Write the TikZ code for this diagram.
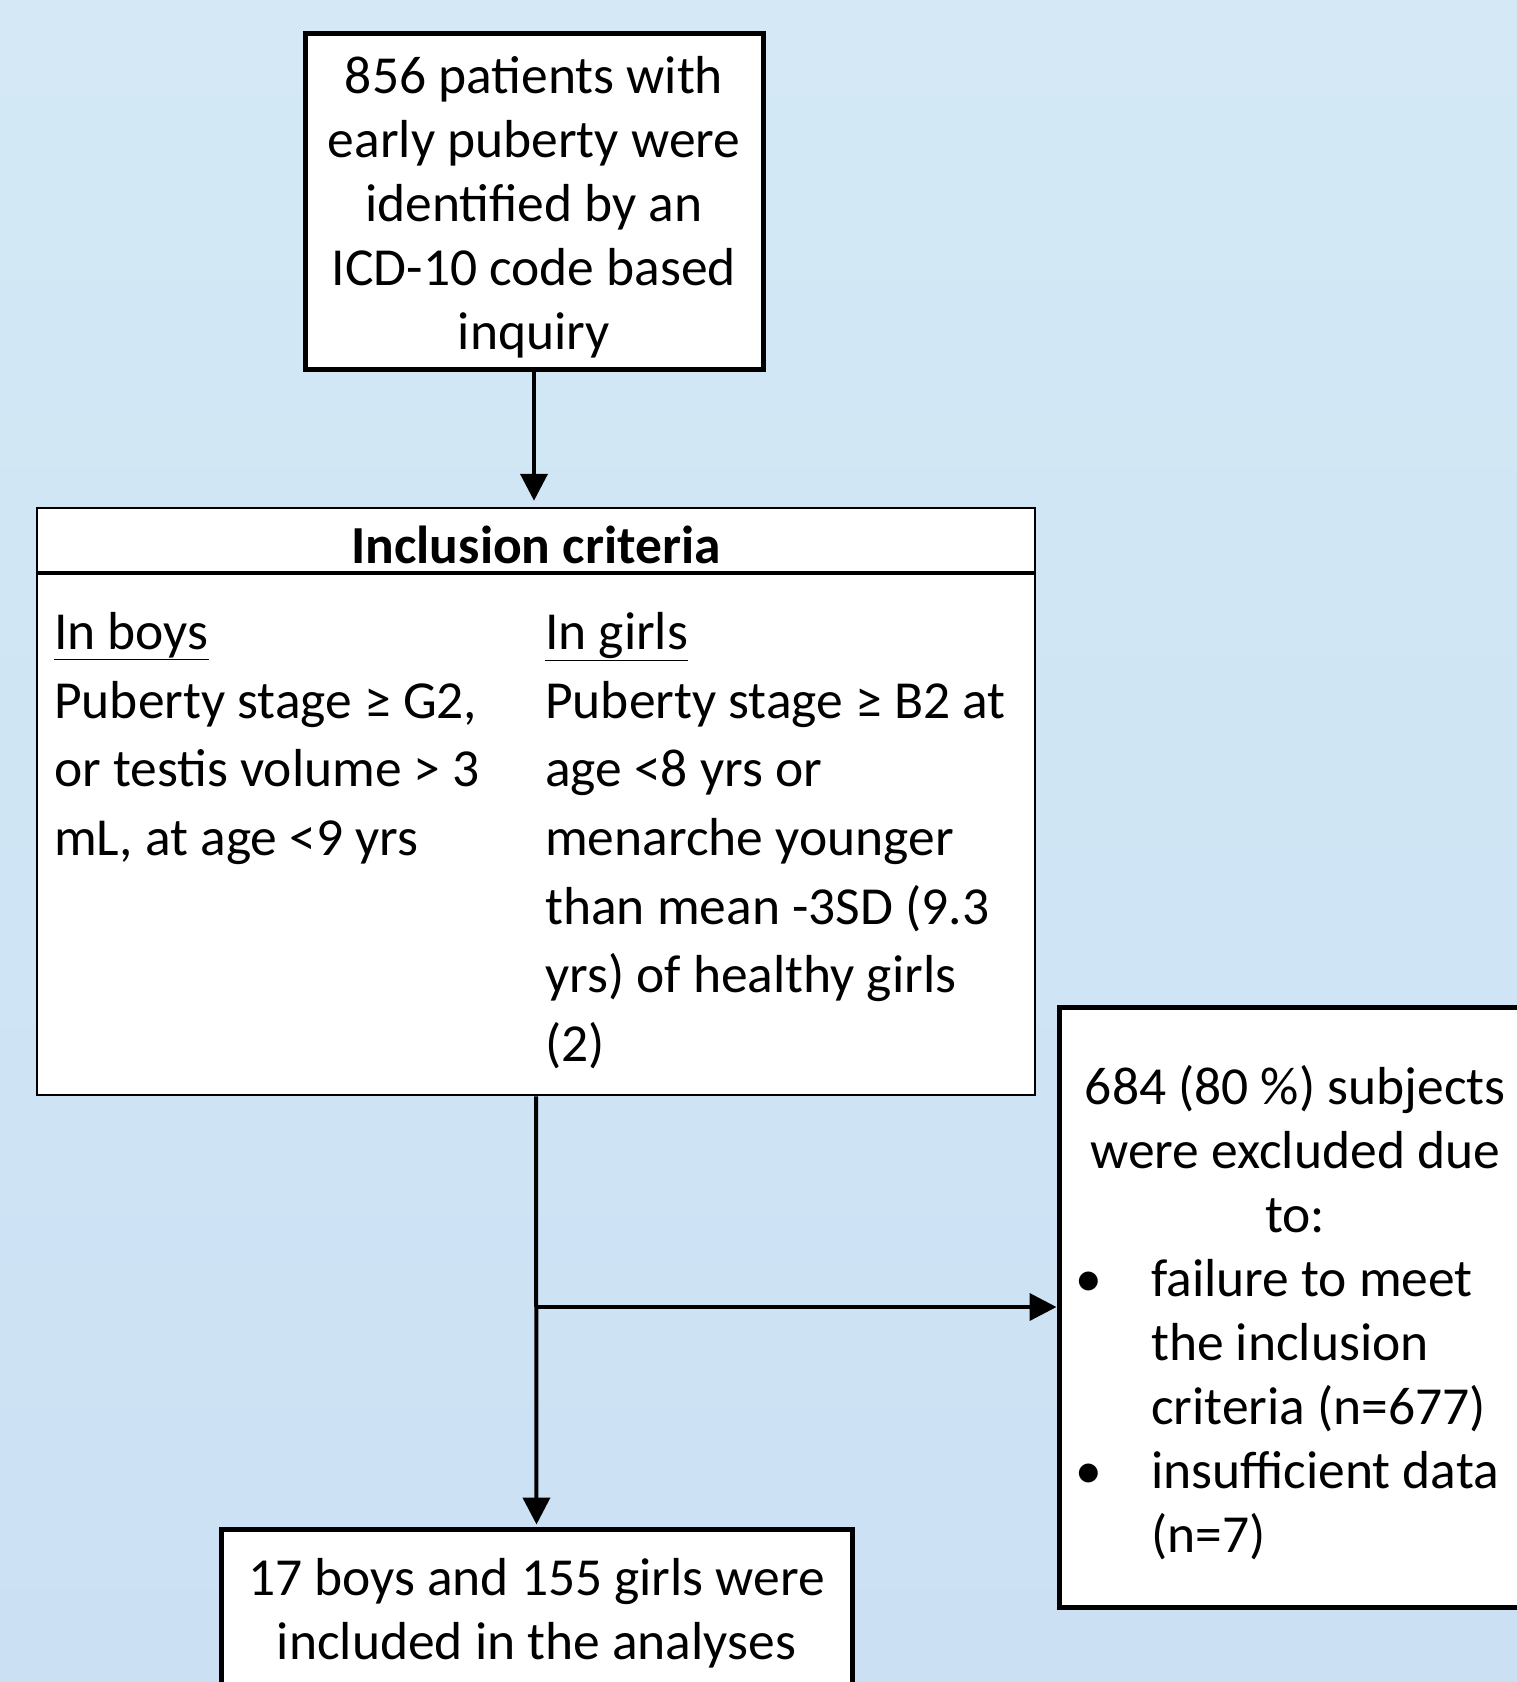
\documentclass[tikz,border=0pt]{standalone}
\usepackage{fontspec}
\setmainfont{Carlito}
\usetikzlibrary{arrows.meta,positioning,calc}
\definecolor{bgtop}{HTML}{D4E9F5}
\definecolor{bgbot}{HTML}{CBE0F3}
\newcommand{\flowfont}{\fontsize{53.5}{64}\selectfont}
\newcommand{\critfont}{\fontsize{53.5}{68.7}\selectfont}

\begin{document}
\begin{tikzpicture}[x=1pt, y=-1pt,
	thickbox/.style={draw, line width=5pt, fill=white, inner sep=0pt, align=center, font=\flowfont},
	thinbox/.style={draw, line width=2.5pt, fill=white, inner sep=0pt},
	arrowline/.style={line width=4pt, -{Triangle[length=27pt, width=27pt]}},
	crittext/.style={anchor=north west, align=left, inner sep=0pt, font=\critfont}]

	\shade[top color=bgtop, bottom color=bgbot] (0,0) rectangle (1517,1682);   % fondo
	\useasboundingbox (0,0) rectangle (1517,1682);
	\clip (0,0) rectangle (1517,1682);

	\node[thickbox, minimum width=458, minimum height=336] (start) at (534,201) {};
	\node[align=center, inner sep=0pt, font=\flowfont] (starttxt) at ([yshift=-6pt]start.center)
		{856 patients with\\early puberty were\\identified by an\\ICD-10 code based\\inquiry};

	\node[thinbox, minimum width=998, minimum height=587] (incl) at (536,801.5) {};
	\draw[line width=4pt] ([yshift=-66pt]incl.north west) -- ([yshift=-66pt]incl.north east);   % separador
	\node[font=\critfont\bfseries, inner sep=0pt] (inchead) at (536,545) {Inclusion criteria};
	\node[crittext] (boys) at (54,612)
		{\underline{In boys}\\Puberty stage ≥ G2,\\or testis volume > 3\\mL, at age <9 yrs};
	\node[crittext] (girls) at (545,612)
		{\underline{In girls}\\Puberty stage ≥ B2 at\\age <8 yrs or\\menarche younger\\than mean -3SD (9.3\\yrs) of healthy girls\\(2)};

	\node[thickbox, minimum width=472, minimum height=600] (excl) at (1295,1307) {};
	\node[anchor=north west, align=left, inner sep=0pt, font=\flowfont] (excltxt) at (1075,1065)
		{\makebox[440pt][c]{684 (80 \%) subjects}\\
		 \makebox[440pt][c]{were excluded due}\\
		 \makebox[440pt][c]{to:}\\
		 \makebox[76pt][l]{\textbullet}failure to meet\\
		 \hspace*{76pt}the inclusion\\
		 \hspace*{76pt}criteria (n=677)\\
		 \makebox[76pt][l]{\textbullet}insufficient data\\
		 \hspace*{76pt}(n=7)};

	\node[thickbox, minimum width=631, minimum height=169] (final) at (536.5,1613.5)
		{17 boys and 155 girls were\\included in the analyses};

	\coordinate (split) at (incl.south |- excl.west);   % bifurcacion
	\draw[arrowline, shorten >=6pt] (start.south) -- (start.south |- incl.north);
	\draw[arrowline, shorten >=2pt] (incl.south) -- (final.north);
	\draw[arrowline] (split) -- (excl.west);
\end{tikzpicture}
\end{document}
